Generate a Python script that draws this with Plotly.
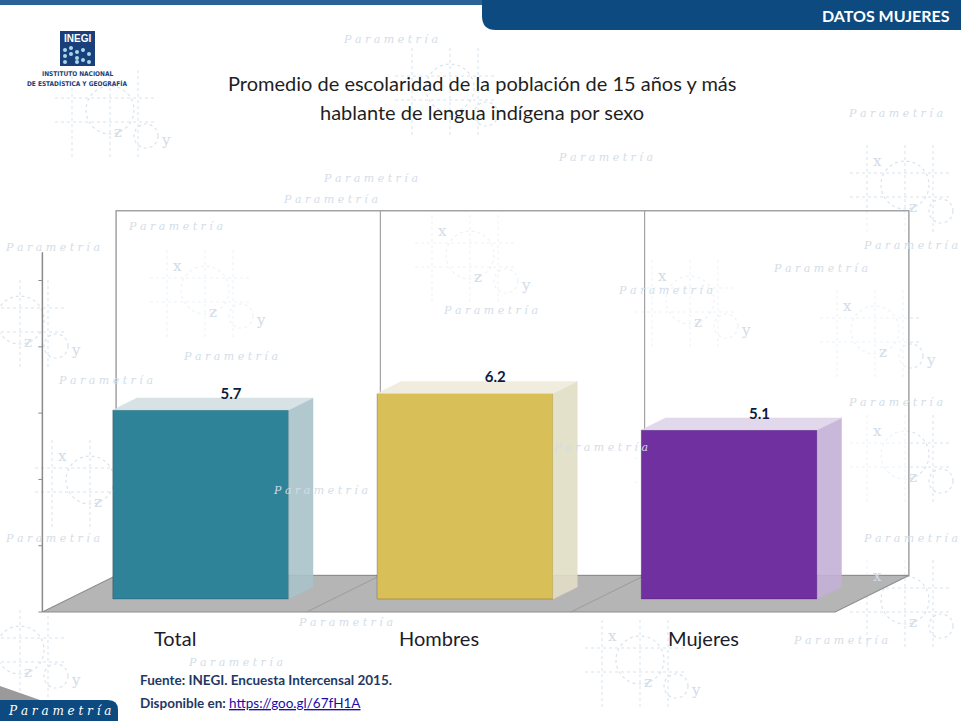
import plotly.graph_objects as go

# chart data
categories = ["Total", "Hombres", "Mujeres"]
values = [5.7, 6.2, 5.1]
value_labels = ["5.7", "6.2", "5.1"]
front_colors = ["#2e8399", "#d8bf58", "#7030a0"]
side_colors = ["#a9c3ca", "#e2dec6", "#c4b1d7"]
top_colors = ["#d3dfe2", "#efecdc", "#ded4e9"]
axis_ticks = [0, 2, 4, 6, 8, 10]
y_max = 11

title_lines = ["Promedio de escolaridad de la población de 15 años y más",
               "hablante de lengua indígena por sexo"]
source_line = "Fuente: INEGI. Encuesta Intercensal 2015."
link_text = "https://goo.gl/67fH1A"

W, H = 961, 721
# pixel geometry of the pseudo 3d box
X0_PX, Y0_PX = 174.5, 612     # where x=0, y=0 falls on the front edge of the floor
PX_PER_X = 264.25
PX_PER_Y = 33.15
SLANT = 2.02                  # horizontal px per px of depth
BAR_FRONT, BAR_BACK, WALL = 13, 25, 36.5
HALF_W = 0.333
FONT = "Lato"


def proj(x, y, d):
    # move a point d px "into" the chart
    return x + d * SLANT / PX_PER_X, y + d / PX_PER_Y


def to_px(x, y):
    return X0_PX + x * PX_PER_X, Y0_PX - y * PX_PER_Y


def px(x, y):
    # paper coords from pixel coords
    return x / W, 1 - y / H


def path_of(points):
    return "M " + " L ".join(f"{a},{b}" for a, b in points) + " Z"


def note(x, y, text, font, xanchor="center"):
    # text placed by pixel position on the page
    a, b = px(x, y)
    return dict(x=a, y=b, xref="paper", yref="paper", text=text, showarrow=False,
                xanchor=xanchor, yanchor="middle", font=font)


# pixel boxes of the bars, so the watermark letters don't land on them
bar_boxes = []
for i, v in enumerate(values):
    l, _ = to_px(*proj(i - HALF_W, 0, BAR_FRONT))
    r, _ = to_px(*proj(i + HALF_W, 0, BAR_BACK))
    _, t = to_px(*proj(i, v, BAR_BACK))
    _, b = to_px(*proj(i, 0, BAR_FRONT))
    bar_boxes.append((l - 6, r + 6, t - 8, b + 8))


def on_bar(x, y):
    return any(l <= x <= r and t <= y <= b for l, r, t, b in bar_boxes)


fig = go.Figure()
shapes = []
annotations = []

# ---- background watermark (Parametria pattern) ----
wm = "#d9e3ec"
motifs = [(110, 110), (450, 88), (905, 185), (205, 290), (470, 255), (20, 320),
          (690, 300), (875, 330), (90, 480), (450, 520), (905, 455), (20, 650),
          (690, 470), (905, 600), (260, 560), (640, 660)]
for cx, cy in motifs:
    r = 24
    x0, y0 = px(cx - r, cy - r)
    x1, y1 = px(cx + r, cy + r)
    shapes.append(dict(type="circle", xref="paper", yref="paper", x0=x0, y0=y1, x1=x1, y1=y0,
                       line=dict(color=wm, width=1.2, dash="dot"), layer="below"))
    sx0, sy0 = px(cx + 24, cy + 14)
    sx1, sy1 = px(cx + 48, cy + 38)
    shapes.append(dict(type="circle", xref="paper", yref="paper", x0=sx0, y0=sy1, x1=sx1, y1=sy0,
                       line=dict(color=wm, width=1.2, dash="dot"), layer="below"))
    for lx in (-38, 0, 28):
        a, b = px(cx + lx, cy - 40)
        c, d = px(cx + lx, cy + 50)
        shapes.append(dict(type="line", xref="paper", yref="paper", x0=a, y0=b, x1=c, y1=d,
                           line=dict(color=wm, width=1, dash="dot"), layer="below"))
    for ly in (-12, 12):
        a, b = px(cx - 55, cy + ly)
        c, d = px(cx + 45, cy + ly)
        shapes.append(dict(type="line", xref="paper", yref="paper", x0=a, y0=b, x1=c, y1=d,
                           line=dict(color=wm, width=1, dash="dot"), layer="below"))
    for t, ox, oy in (("x", -28, -24), ("z", 8, 22), ("y", 56, 30)):
        tx, ty = cx + ox, cy + oy
        if (on_bar(tx, ty) or (60 < ty < 125 and 220 < tx < 750)
                or (tx < 140 and ty < 95) or tx < 8 or tx > 950):
            continue
        annotations.append(note(tx, ty, t, dict(family="DejaVu Serif", size=15, color="#d2dce7")))

wm_texts = [(390, 40), (895, 113), (605, 157), (370, 178), (330, 199), (175, 226),
            (52, 247), (820, 268), (665, 290), (490, 310), (230, 356), (105, 380),
            (895, 402), (600, 448), (320, 490), (52, 538), (910, 538), (345, 622),
            (235, 662), (910, 245), (840, 640)]
for tx, ty in wm_texts:
    if on_bar(tx, ty):
        continue
    annotations.append(note(tx, ty, "<i>P a r a m e t r í a</i>",
                            dict(family="DejaVu Serif", size=11, color="#d3dde7")))

# ---- back wall, floor and front axis ----
wall = [proj(-0.5, 0, WALL), proj(2.5, 0, WALL), proj(2.5, y_max, WALL), proj(-0.5, y_max, WALL)]
shapes.append(dict(type="path", xref="x", yref="y", path=path_of(wall),
                   fillcolor="rgba(255,255,255,0.55)", line=dict(color="#a3a3a3", width=1.5),
                   layer="below"))
for k in (0.5, 1.5):
    a, b = proj(k, 0, WALL)
    c, d = proj(k, y_max, WALL)
    shapes.append(dict(type="line", xref="x", yref="y", x0=a, y0=b, x1=c, y1=d,
                       line=dict(color="#a3a3a3", width=1.2), layer="below"))

floor = [proj(-0.5, 0, 0), proj(2.5, 0, 0), proj(2.5, 0, WALL), proj(-0.5, 0, WALL)]
shapes.append(dict(type="path", xref="x", yref="y", path=path_of(floor),
                   fillcolor="#b5b5b5", line=dict(color="#8e8e8e", width=1.2), layer="below"))
for k in (0.5, 1.5):
    a, b = proj(k, 0, 0)
    c, d = proj(k, 0, WALL)
    shapes.append(dict(type="line", xref="x", yref="y", x0=a, y0=b, x1=c, y1=d,
                       line=dict(color="#9c9c9c", width=1), layer="below"))

shapes.append(dict(type="line", xref="x", yref="y", x0=-0.5, y0=0, x1=-0.5, y1=y_max - 0.15,
                   line=dict(color="#8a8a8a", width=1.5), layer="below"))
for t in axis_ticks:
    shapes.append(dict(type="line", xref="x", yref="y", x0=-0.5 - 4 / PX_PER_X, y0=t,
                       x1=-0.5, y1=t, line=dict(color="#8a8a8a", width=1), layer="below"))

# ---- bars: front faces ----
xs = list(range(len(categories)))
fig.add_trace(go.Bar(
    x=[proj(i, 0, BAR_FRONT)[0] for i in xs],
    y=values,
    base=proj(0, 0, BAR_FRONT)[1],
    width=2 * HALF_W,
    marker=dict(color=front_colors, line=dict(color="rgba(0,0,0,0.25)", width=0.8)),
    hoverinfo="skip",
))

# side and top faces
for i, v in enumerate(values):
    side = [proj(i + HALF_W, 0, BAR_FRONT), proj(i + HALF_W, 0, BAR_BACK),
            proj(i + HALF_W, v, BAR_BACK), proj(i + HALF_W, v, BAR_FRONT)]
    top = [proj(i - HALF_W, v, BAR_FRONT), proj(i + HALF_W, v, BAR_FRONT),
           proj(i + HALF_W, v, BAR_BACK), proj(i - HALF_W, v, BAR_BACK)]
    for poly, col in ((side, side_colors[i]), (top, top_colors[i])):
        fig.add_trace(go.Scatter(
            x=[p[0] for p in poly] + [poly[0][0]],
            y=[p[1] for p in poly] + [poly[0][1]],
            mode="lines", fill="toself", fillcolor=col,
            line=dict(color=col, width=0.5), opacity=0.9, hoverinfo="skip",
        ))

# value labels
lab = [proj(i, v, BAR_FRONT + 15) for i, v in enumerate(values)]
fig.add_trace(go.Scatter(
    x=[p[0] for p in lab], y=[p[1] for p in lab], mode="text",
    text=[f"<b>{t}</b>" for t in value_labels],
    textfont=dict(family=FONT, size=15, color="#0f1b3d"),
    textposition="middle center", hoverinfo="skip",
))

# category labels
cat_y = -26 / PX_PER_Y
for i, c in enumerate(categories):
    annotations.append(dict(x=i, y=cat_y, xref="x", yref="y", text=c, showarrow=False,
                            xanchor="center", yanchor="middle",
                            font=dict(family=FONT, size=20, color="#1a1d2b")))

# ---- title ----
for line, yy in zip(title_lines, (83, 112)):
    annotations.append(note(482, yy, line, dict(family=FONT, size=20, color="#1f1f1f")))

# ---- header band ----
hx0, hy1 = px(482, 30)
r0 = px(496, 16)
shapes.append(dict(type="path", xref="paper", yref="paper",
                   path=f"M {hx0},1 L 1,1 L 1,{hy1} L {r0[0]},{hy1} Q {hx0},{hy1} {hx0},{r0[1]} Z",
                   fillcolor="#0c4a80", line=dict(width=0)))
tb = px(0, 5)
shapes.append(dict(type="rect", xref="paper", yref="paper", x0=0, y0=tb[1], x1=hx0, y1=1,
                   fillcolor="#2b6396", line=dict(width=0)))
annotations.append(note(952, 16, "<b>DATOS MUJERES</b>",
                        dict(family=FONT, size=16, color="white"), xanchor="right"))

# ---- INEGI logo ----
lx0, ly0 = px(60, 31)
lx1, ly1 = px(95, 66)
shapes.append(dict(type="rect", xref="paper", yref="paper", x0=lx0, y0=ly1, x1=lx1, y1=ly0,
                   fillcolor="#1b3f7a", line=dict(width=0)))
for col_x, rows in ((65, (50, 56, 62)), (71, (48, 54)), (77, (52, 58, 62)), (83, (50, 60)), (89, (54, 62))):
    for ry in rows:
        cx0, cy0 = px(col_x - 2, ry - 2)
        cx1, cy1 = px(col_x + 2, ry + 2)
        shapes.append(dict(type="circle", xref="paper", yref="paper", x0=cx0, y0=cy1, x1=cx1, y1=cy0,
                           fillcolor="#a8d8ea", line=dict(width=0)))
annotations.append(note(77.5, 38.5, "<b>INEGI</b>",
                        dict(family="Liberation Sans", size=10, color="white")))
for txt, yy in (("INSTITUTO NACIONAL", 74), ("DE ESTADÍSTICA Y GEOGRAFÍA", 84)):
    annotations.append(note(77, yy, f"<b>{txt}</b>",
                            dict(family="DejaVu Sans Condensed", size=6.5, color="#1b3f7a")))

# ---- Parametria badge ----
bx1, by0 = px(118, 700)
rr = px(108, 710)
shapes.append(dict(type="path", xref="paper", yref="paper",
                   path=f"M 0,0 L {bx1},0 L {bx1},{rr[1]} Q {bx1},{by0} {rr[0]},{by0} L 0,{by0} Z",
                   fillcolor="#0c4a80", line=dict(width=0)))
g0 = px(0, 686)
g1 = px(40, 700)
shapes.append(dict(type="path", xref="paper", yref="paper",
                   path=f"M 0,{g1[1]} L 0,{g0[1]} L {g1[0]},{g1[1]} Z",
                   fillcolor="#9a9a9a", line=dict(width=0)))
annotations.append(note(59, 711, "<i>P a r a m e t r í a</i>",
                        dict(family="DejaVu Serif", size=12, color="white")))

# ---- source ----
annotations.append(note(138, 680, f"<b>{source_line}</b>",
                        dict(family=FONT, size=13.5, color="#1f3864"), xanchor="left"))
annotations.append(note(138, 703,
                        f"<b>Disponible en: </b><span style='color:#1a0dab'><u>{link_text}</u></span>",
                        dict(family=FONT, size=13.5, color="#1f3864"), xanchor="left"))

fig.update_layout(
    width=W, height=H,
    margin=dict(l=0, r=0, t=0, b=0),
    paper_bgcolor="white",
    plot_bgcolor="rgba(0,0,0,0)",
    showlegend=False,
    xaxis=dict(range=[-X0_PX / PX_PER_X, (W - X0_PX) / PX_PER_X], visible=False, fixedrange=True),
    yaxis=dict(range=[(Y0_PX - H) / PX_PER_Y, Y0_PX / PX_PER_Y], visible=False, fixedrange=True),
    shapes=shapes,
    annotations=annotations,
)

# the page has a default body margin; drop it so the figure sits at 0,0
fig.write_html("out.html", config={"displayModeBar": False},
               post_script="document.body.style.margin='0';document.body.style.overflow='hidden';")
